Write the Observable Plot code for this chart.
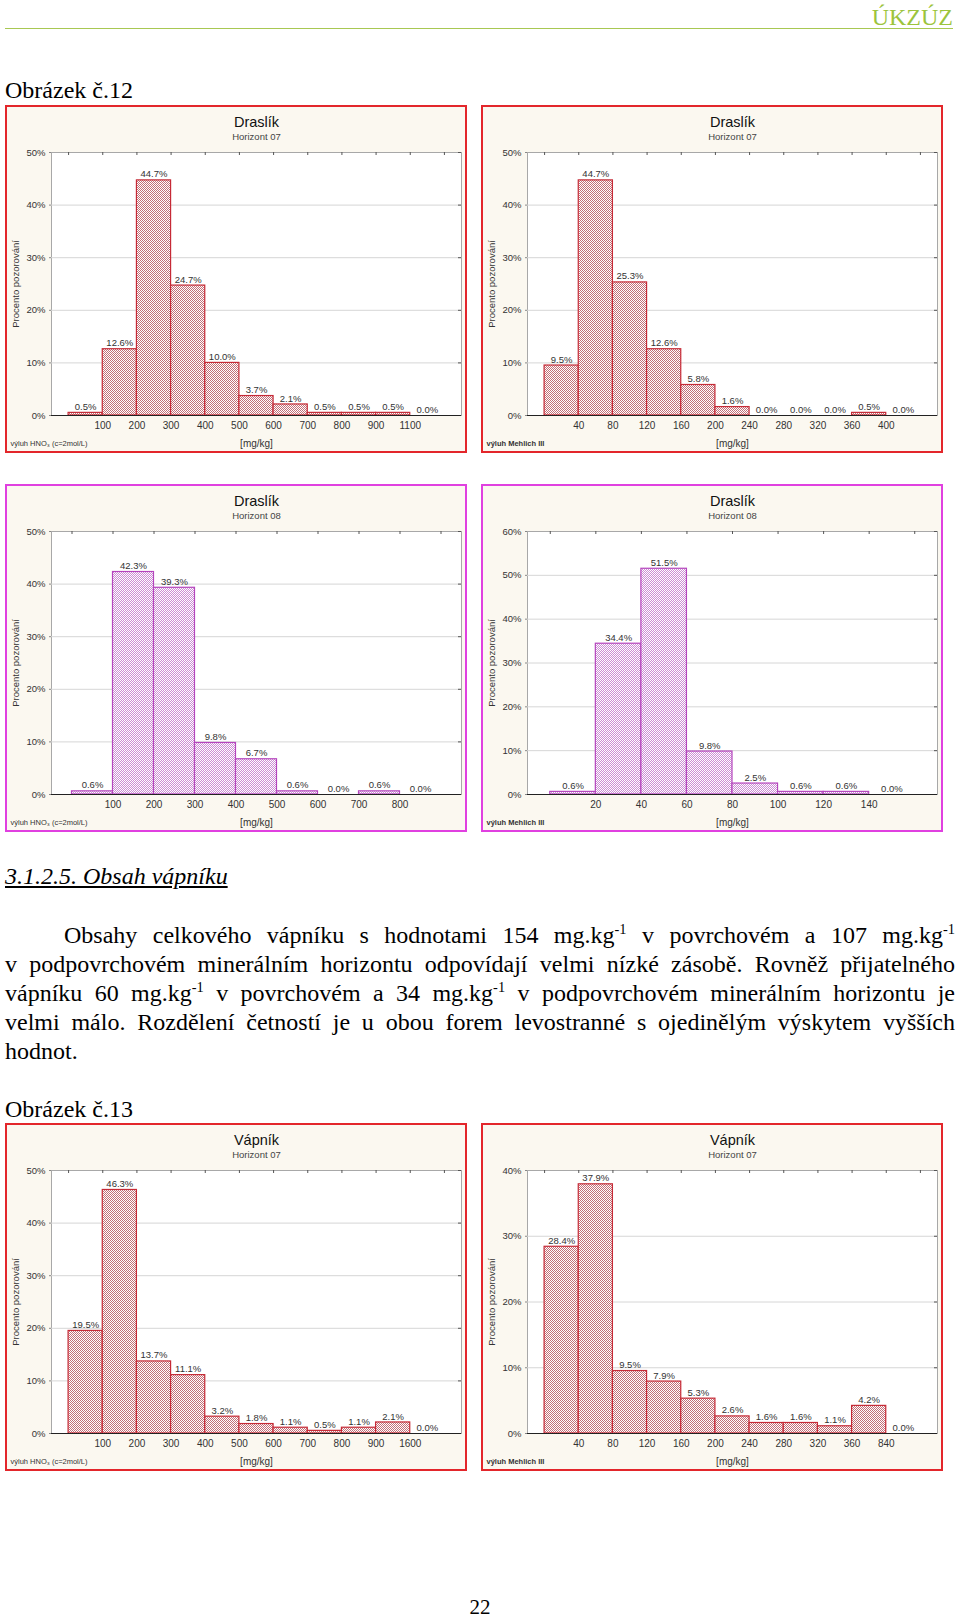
<!DOCTYPE html>
<html>
<head>
<meta charset="utf-8">
<script src="https://cdn.jsdelivr.net/npm/d3@7"></script>
<script src="https://cdn.jsdelivr.net/npm/@observablehq/plot@0.6"></script>
<style>
  html, body { margin: 0; padding: 0; background: #fff; }
  body { width: 960px; height: 1617px; position: relative; overflow: hidden;
         font-family: "Liberation Serif", "Times New Roman", serif; color: #000; }
  .abs { position: absolute; white-space: nowrap; }
  .hdr { font-size: 24px; line-height: 24px; color: #9cc43c; right: 7px; top: 5px; }
  .rule { left: 5px; top: 28px; width: 948px; height: 0; border-top: 1.5px solid #a8c852; }
  .fig { font-size: 24px; line-height: 24px; left: 5px; }
  .sec { font-size: 24px; line-height: 24px; left: 5px; font-style: italic; text-decoration: underline; }
  .para { position: absolute; left: 5px; width: 950px; font-size: 24px; line-height: 29px; }
  .para div { text-align: justify; text-align-last: justify; white-space: normal; }
  .para div.last { text-align-last: left; }
  sup { font-size: 0.6em; line-height: 0; position: relative; top: -0.6em; vertical-align: baseline; }
  .panel { position: absolute; width: 458px; height: 344px; border: 2px solid #e3262b; background: #fbf8f0; }
  .panel.mag { border-color: #e040e0; }
  .panel svg { position: absolute; left: 0; top: 0; }
</style>
</head>
<body>
<svg width="0" height="0" style="position:absolute">
  <defs>
    <pattern id="hatchRed" patternUnits="userSpaceOnUse" width="2" height="2">
      <rect width="2" height="2" fill="#ffffff"/>
      <rect width="1" height="1" fill="#c27078"/>
      <rect x="1" y="1" width="1" height="1" fill="#c27078"/>
    </pattern>
    <pattern id="hatchMag" patternUnits="userSpaceOnUse" width="2" height="2">
      <rect width="2" height="2" fill="#ffffff"/>
      <rect width="1" height="1" fill="#cc8ed4"/>
      <rect x="1" y="1" width="1" height="1" fill="#cc8ed4"/>
    </pattern>
  </defs>
</svg>

<div class="abs hdr">ÚKZÚZ</div>
<div class="abs rule"></div>
<div class="abs fig" style="top:78px">Obrázek č.12</div>

<div class="abs sec" style="top:864px">3.1.2.5. Obsah vápníku</div>
<div class="para" style="top:921px">
  <div style="text-indent:59px">Obsahy celkového vápníku s hodnotami 154 mg.kg<sup>-1</sup> v povrchovém a 107 mg.kg<sup>-1</sup></div>
  <div>v podpovrchovém minerálním horizontu odpovídají velmi nízké zásobě. Rovněž přijatelného</div>
  <div>vápníku 60 mg.kg<sup>-1</sup> v povrchovém a 34 mg.kg<sup>-1</sup> v podpovrchovém minerálním horizontu je</div>
  <div>velmi málo. Rozdělení četností je u obou forem levostranné s ojedinělým výskytem vyšších</div>
  <div class="last">hodnot.</div>
</div>
<div class="abs fig" style="top:1097px">Obrázek č.13</div>
<div class="abs" style="left:0;width:960px;text-align:center;top:1597px;font-size:21px;line-height:21px">22</div>

<script>
// ---------- data ----------
const draslik07HNO3Bins = ["100","200","300","400","500","600","700","800","900","1100"];
const draslik07HNO3Pct  = [0.5, 12.6, 44.7, 24.7, 10.0, 3.7, 2.1, 0.5, 0.5, 0.5, 0.0];

const draslik07M3Bins = ["40","80","120","160","200","240","280","320","360","400"];
const draslik07M3Pct  = [9.5, 44.7, 25.3, 12.6, 5.8, 1.6, 0.0, 0.0, 0.0, 0.5, 0.0];

const draslik08HNO3Bins = ["100","200","300","400","500","600","700","800"];
const draslik08HNO3Pct  = [0.6, 42.3, 39.3, 9.8, 6.7, 0.6, 0.0, 0.6, 0.0];

const draslik08M3Bins = ["20","40","60","80","100","120","140"];
const draslik08M3Pct  = [0.6, 34.4, 51.5, 9.8, 2.5, 0.6, 0.6, 0.0];

const vapnik07HNO3Bins = ["100","200","300","400","500","600","700","800","900","1600"];
const vapnik07HNO3Pct  = [19.5, 46.3, 13.7, 11.1, 3.2, 1.8, 1.1, 0.5, 1.1, 2.1, 0.0];

const vapnik07M3Bins = ["40","80","120","160","200","240","280","320","360","840"];
const vapnik07M3Pct  = [28.4, 37.9, 9.5, 7.9, 5.3, 2.6, 1.6, 1.6, 1.1, 4.2, 0.0];

const yTicks50 = [0, 10, 20, 30, 40, 50];
const yTicks60 = [0, 10, 20, 30, 40, 50, 60];
const yTicks40 = [0, 10, 20, 30, 40];

const titleDraslik = "Draslík";
const titleVapnik = "Vápník";
const horizont07 = "Horizont 07";
const horizont08 = "Horizont 08";
const yLabel = "Procento pozorování";
const xLabel = "[mg/kg]";
const noteHNO3 = "výluh HNO₃ (c=2mol/L)";
const noteM3 = "výluh Mehlich III";

// ---------- drawing ----------
const W = 458, H = 344, ML = 44, MR = 4, MT = 45, MB = 36;
const plotW = W - ML - MR, plotH = H - MT - MB;

function histogram({title, subtitle, note, noteBold, bins, pct, yTicks, scheme}) {
  const n = pct.length;
  const rows = pct.map((v, i) => ({x1: i, x2: i + 1, pct: v}));
  const edges = d3.range(0, n + 1);
  const inner = d3.range(1, n);
  const ymax = yTicks[yTicks.length - 1];
  const fill = scheme === "mag" ? "url(#hatchMag)" : "url(#hatchRed)";
  const stroke = scheme === "mag" ? "#b545bd" : "#c62a36";
  return Plot.plot({
    width: W, height: H,
    marginLeft: ML, marginRight: MR, marginTop: MT, marginBottom: MB,
    style: {background: "transparent", fontFamily: "'Liberation Sans', Arial, sans-serif", fontSize: "9.5px", color: "#333"},
    x: {domain: [-0.5, n + 0.5], axis: null},
    y: {domain: [0, ymax], axis: null},
    marks: [
      Plot.frame({fill: "white", stroke: "#a8a8a8"}),
      Plot.gridY(yTicks.slice(1, -1), {stroke: "#d6d6d6", strokeOpacity: 1}),
      Plot.tickY(yTicks, {y: d => d, insetLeft: plotW - 3, stroke: "#555"}),
      Plot.tickX(edges, {x: d => d, insetBottom: plotH - 3, stroke: "#555"}),
      Plot.axisY(yTicks, {tickFormat: d => d + "%", tickSize: 2, tickPadding: 4, fontSize: 9.5, fill: "#333", stroke: "#888", label: null}),
      Plot.axisX(inner, {tickFormat: i => bins[i - 1], tickSize: 0, tickPadding: 6, fontSize: 10, fill: "#333", label: null}),
      Plot.rectY(rows, {x1: "x1", x2: "x2", y: "pct", fill, stroke, strokeWidth: 1.2}),
      Plot.ruleY([0], {stroke: "#222", strokeWidth: 1.2}),
      Plot.text(rows, {x: d => d.x1 + 0.5, y: "pct", text: d => d.pct.toFixed(1) + "%", dy: -6, fontSize: 9.5, fill: "#333"}),
      Plot.text([title], {frameAnchor: "top", lineAnchor: "middle", dy: -30, fontSize: 14.5, fill: "#111"}),
      Plot.text([subtitle], {frameAnchor: "top", lineAnchor: "middle", dy: -16, fontSize: 9.5, fill: "#444"}),
      Plot.text([yLabel], {frameAnchor: "left", textAnchor: "middle", rotate: -90, dx: -36, fontSize: 9.5, fill: "#333"}),
      Plot.text([xLabel], {frameAnchor: "bottom", lineAnchor: "middle", dy: 28, fontSize: 10, fill: "#333"}),
      Plot.text([note], {frameAnchor: "bottom-left", lineAnchor: "middle", dx: -41, dy: 28, textAnchor: "start", fontSize: 7.5, fill: "#333", fontWeight: noteBold ? "bold" : "normal"})
    ]
  });
}

const panels = [
  {left: 5,   top: 105,  scheme: "red", title: titleDraslik, subtitle: horizont07, note: noteHNO3, bins: draslik07HNO3Bins, pct: draslik07HNO3Pct, yTicks: yTicks50},
  {left: 481, top: 105,  scheme: "red", title: titleDraslik, subtitle: horizont07, note: noteM3, noteBold: true, bins: draslik07M3Bins, pct: draslik07M3Pct, yTicks: yTicks50},
  {left: 5,   top: 484,  scheme: "mag", title: titleDraslik, subtitle: horizont08, note: noteHNO3, bins: draslik08HNO3Bins, pct: draslik08HNO3Pct, yTicks: yTicks50},
  {left: 481, top: 484,  scheme: "mag", title: titleDraslik, subtitle: horizont08, note: noteM3, noteBold: true, bins: draslik08M3Bins, pct: draslik08M3Pct, yTicks: yTicks60},
  {left: 5,   top: 1123, scheme: "red", title: titleVapnik, subtitle: horizont07, note: noteHNO3, bins: vapnik07HNO3Bins, pct: vapnik07HNO3Pct, yTicks: yTicks50},
  {left: 481, top: 1123, scheme: "red", title: titleVapnik, subtitle: horizont07, note: noteM3, noteBold: true, bins: vapnik07M3Bins, pct: vapnik07M3Pct, yTicks: yTicks40}
];

for (const p of panels) {
  const div = document.createElement("div");
  div.className = "panel" + (p.scheme === "mag" ? " mag" : "");
  div.style.left = p.left + "px";
  div.style.top = p.top + "px";
  div.appendChild(histogram(p));
  document.body.appendChild(div);
}
</script>
</body>
</html>
